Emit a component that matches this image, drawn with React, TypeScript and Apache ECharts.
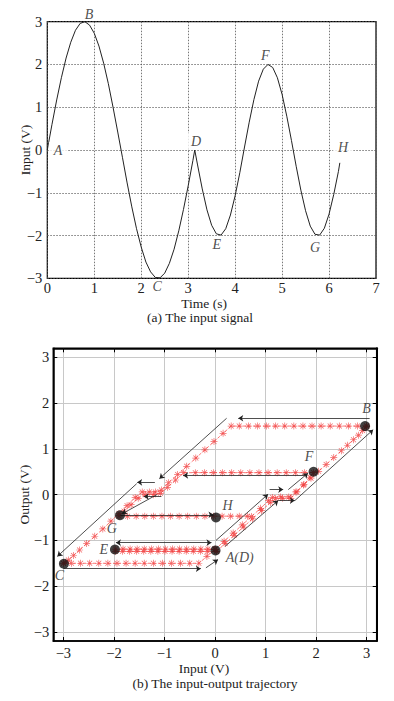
import React, { useEffect, useRef } from 'react';
import * as echarts from 'echarts';

// ---------- (a) input signal ----------
const timeValues = [0, 0.1, 0.2, 0.3, 0.4, 0.5, 0.6, 0.7, 0.8, 0.9, 1.0, 1.1, 1.2, 1.3, 1.4, 1.5, 1.6, 1.7, 1.8, 1.9, 2.0, 2.1, 2.2, 2.3, 2.4, 2.5, 2.6, 2.7, 2.8, 2.9, 3.0, 3.1, 3.14, 3.2, 3.3, 3.4, 3.5, 3.6, 3.7, 3.8, 3.9, 4.0, 4.1, 4.2, 4.3, 4.4, 4.5, 4.6, 4.7, 4.8, 4.9, 5.0, 5.1, 5.2, 5.3, 5.4, 5.5, 5.6, 5.7, 5.8, 5.9, 6.0, 6.1, 6.2, 6.23];
const inputValues = [0, 0.6, 1.17, 1.69, 2.15, 2.52, 2.8, 2.96, 3.0, 2.92, 2.73, 2.43, 2.03, 1.55, 1.0, 0.42, -0.17, -0.77, -1.33, -1.84, -2.27, -2.62, -2.85, -2.98, -2.99, -2.88, -2.65, -2.32, -1.89, -1.39, -0.84, -0.25, 0, -0.35, -0.91, -1.4, -1.76, -1.96, -1.99, -1.84, -1.52, -1.07, -0.53, 0.07, 0.65, 1.18, 1.61, 1.89, 2.0, 1.93, 1.69, 1.3, 0.79, 0.22, -0.38, -0.94, -1.42, -1.78, -1.97, -1.99, -1.83, -1.5, -1.04, -0.5, -0.3];
const signalLabelNames = ['A', 'B', 'C', 'D', 'E', 'F', 'G', 'H'];
const signalLabelPos = [[0.23, 0], [0.89, 3.18], [2.34, -3.2], [3.17, 0.21], [3.61, -2.22], [4.64, 2.22], [5.7, -2.27], [6.3, 0.07]];

// ---------- (b) input-output trajectory ----------
const pathAB = [[0, -1.2], [0.18, -1.02], [0.36, -0.84], [0.54, -0.66], [0.72, -0.48], [0.9, -0.3], [1.06, -0.13], [1.14, -0.06], [1.3, -0.05], [1.46, -0.05], [1.6, 0.06], [1.75, 0.21], [1.9, 0.36], [2.05, 0.51], [2.2, 0.66], [2.35, 0.81], [2.5, 0.96], [2.62, 1.08], [2.74, 1.2], [2.84, 1.3], [2.92, 1.4], [2.97, 1.46], [3.0, 1.5]];
const pathBC = [[3.0, 1.5], [2.82, 1.5], [2.64, 1.5], [2.46, 1.5], [2.28, 1.5], [2.1, 1.5], [1.92, 1.5], [1.74, 1.5], [1.56, 1.5], [1.38, 1.5], [1.2, 1.5], [1.02, 1.5], [0.84, 1.5], [0.66, 1.5], [0.48, 1.5], [0.32, 1.5], [0.16, 1.34], [-0.02, 1.16], [-0.2, 0.98], [-0.38, 0.8], [-0.56, 0.62], [-0.74, 0.44], [-0.92, 0.26], [-1.06, 0.1], [-1.18, 0.06], [-1.3, 0.06], [-1.44, 0.06], [-1.58, -0.06], [-1.74, -0.24], [-1.9, -0.41], [-2.06, -0.58], [-2.22, -0.75], [-2.38, -0.91], [-2.54, -1.07], [-2.68, -1.21], [-2.8, -1.33], [-2.9, -1.43], [-2.96, -1.48], [-3.0, -1.5]];
const pathCD = [[-3.0, -1.5], [-2.84, -1.5], [-2.66, -1.5], [-2.48, -1.5], [-2.3, -1.5], [-2.12, -1.5], [-1.94, -1.5], [-1.76, -1.5], [-1.58, -1.5], [-1.4, -1.5], [-1.22, -1.5], [-1.04, -1.5], [-0.86, -1.5], [-0.68, -1.5], [-0.5, -1.5], [-0.32, -1.5], [-0.16, -1.35], [0, -1.2]];
const pathDE = [[0, -1.19], [-0.14, -1.19], [-0.28, -1.19], [-0.42, -1.19], [-0.56, -1.19], [-0.7, -1.19], [-0.84, -1.19], [-0.98, -1.19], [-1.12, -1.19], [-1.26, -1.19], [-1.4, -1.19], [-1.54, -1.19], [-1.68, -1.19], [-1.82, -1.19], [-1.97, -1.19]];
const pathEA = [[-1.97, -1.24], [-1.83, -1.24], [-1.69, -1.24], [-1.55, -1.24], [-1.41, -1.24], [-1.27, -1.24], [-1.13, -1.24], [-0.99, -1.24], [-0.85, -1.24], [-0.71, -1.24], [-0.57, -1.24], [-0.43, -1.24], [-0.29, -1.24], [-0.15, -1.24], [0.03, -1.24]];
const pathAF = [[0.03, -1.24], [0.2, -1.07], [0.38, -0.89], [0.56, -0.71], [0.74, -0.53], [0.92, -0.35], [1.1, -0.17], [1.2, -0.09], [1.34, -0.08], [1.5, -0.08], [1.62, 0.06], [1.76, 0.22], [1.88, 0.38], [1.95, 0.48]];
const pathFG = [[1.95, 0.48], [1.77, 0.48], [1.59, 0.48], [1.41, 0.48], [1.23, 0.48], [1.05, 0.48], [0.87, 0.48], [0.69, 0.48], [0.51, 0.48], [0.33, 0.48], [0.15, 0.48], [-0.03, 0.48], [-0.21, 0.48], [-0.39, 0.48], [-0.62, 0.48], [-0.78, 0.32], [-0.94, 0.16], [-1.08, 0.03], [-1.22, 0.0], [-1.38, 0.0], [-1.52, -0.08], [-1.66, -0.22], [-1.8, -0.36], [-1.9, -0.46]];
const pathGH = [[-1.9, -0.47], [-1.73, -0.47], [-1.56, -0.47], [-1.39, -0.47], [-1.22, -0.47], [-1.05, -0.47], [-0.88, -0.47], [-0.71, -0.47], [-0.54, -0.47], [-0.37, -0.47], [-0.2, -0.47], [-0.03, -0.47], [0.14, -0.47], [0.31, -0.47], [0.48, -0.47], [0.64, -0.47]];

const arrowSingle = [
  [[3.06, 1.67], [0.46, 1.67]],
  [[0.23, 1.67], [-1.1, 0.35]],
  [[-1.19, 0.27], [-1.54, 0.27]],
  [[-1.55, 0.24], [-3.12, -1.35]],
  [[-1.06, -0.04], [-1.41, -0.04]],
  [[-1.15, 0.0], [-1.84, -0.42]],
  [[1.78, 0.42], [-0.63, 0.42]],
  [[-1.87, -0.44], [-0.03, -0.44]],
  [[-3.0, -1.62], [-0.28, -1.62]],
  [[-0.18, -1.6], [0.06, -1.42]],
  [[0.02, -1.0], [1.05, 0.01]],
  [[1.08, 0.11], [1.35, 0.11]],
  [[1.45, 0.11], [1.84, 0.47]],
  [[0.2, -1.13], [1.25, -0.13]],
  [[1.25, -0.13], [1.58, -0.13]],
  [[1.58, -0.13], [3.13, 1.42]],
];
const arrowDouble = [[[-1.96, -1.05], [-0.07, -1.05]]];

const keyPointNames = ['B', 'F', 'H', 'A', 'E', 'G', 'C'];
const keyPoints = [[2.97, 1.5], [1.95, 0.5], [0.02, -0.5], [0.01, -1.22], [-1.98, -1.2], [-1.88, -0.45], [-2.99, -1.51]];
const keyLabelNames = ['B', 'F', 'H', 'A(D)', 'E', 'G', 'C'];
const keyLabelPos = [[3.0, 1.89], [1.86, 0.84], [0.25, -0.24], [0.49, -1.37], [-2.2, -1.2], [-2.04, -0.73], [-3.08, -1.77]];
const ioTicks = [-3, -2, -1, 0, 1, 2, 3];

const SERIF = 'Liberation Serif';
const FS = 13.5;
const TICK_FS = 14.5;
const fmt = (v: number) => (v < 0 ? '\u2212' + Math.abs(v) : String(v));
const ASTERISK =
  'path://M4.5 0h1v10h-1z M0 4.5h10v1H0z M1.1 1.8l0.7-0.7 7.1 7.1-0.7 0.7z M8.2 1.1l0.7 0.7-7.1 7.1-0.7-0.7z';

export default function App() {
  const ref = useRef<HTMLDivElement>(null);
  useEffect(() => {
    document.body.style.margin = '0';
    if (!ref.current) return;
    const chart = echarts.init(ref.current, undefined, { renderer: 'svg' });
    const txt = { fontFamily: SERIF, fontSize: FS, color: '#222', fontWeight: 'normal' as const };
    const tick = { ...txt, fontSize: TICK_FS };
    const trajectory = [...pathAB, ...pathBC, ...pathCD, ...pathDE, ...pathEA, ...pathAF, ...pathFG, ...pathGH];
    const option: any = {
      animation: false,
      textStyle: { fontFamily: SERIF },
      grid: [
        { left: 47.3, top: 21.7, width: 328.7, height: 256.6, show: true, borderColor: '#000', borderWidth: 1.2 },
        { left: 53.3, top: 348.3, width: 323.4, height: 292.7, show: true, borderColor: '#000', borderWidth: 1.5 },
      ],
      xAxis: [
        {
          gridIndex: 0, type: 'value', min: 0, max: 7, interval: 1,
          axisLine: { show: false, onZero: false }, axisTick: { show: false },
          axisLabel: { ...tick, margin: 2, formatter: fmt },
          splitLine: { show: true, lineStyle: { color: '#555', type: [1.5, 1.5], width: 0.8 } },
          name: 'Time (s)', nameLocation: 'middle', nameGap: 13.5,
          nameTextStyle: { ...txt, padding: [0, 15, 0, 0] },
        },
        {
          gridIndex: 1, type: 'value', min: -3.2, max: 3.2, position: 'bottom',
          axisLine: { show: true, onZero: false, lineStyle: { color: '#000', width: 1.5 } },
          axisTick: { show: true, inside: true, length: 4, customValues: ioTicks, lineStyle: { color: '#000' } },
          axisLabel: { ...tick, margin: 4, customValues: ioTicks, formatter: fmt },
          splitLine: { show: true, lineStyle: { color: '#c8c8c8', width: 1 } },
          name: 'Input (V)', nameLocation: 'middle', nameGap: 20,
          nameTextStyle: { ...txt, padding: [0, 22, 0, 0] },
        },
        {
          gridIndex: 1, type: 'value', min: -3.2, max: 3.2, position: 'top',
          axisLine: { show: true, onZero: false, lineStyle: { color: '#000', width: 1.5 } },
          axisTick: { show: true, inside: true, length: 4, customValues: ioTicks, lineStyle: { color: '#000' } },
          axisLabel: { show: false }, splitLine: { show: false },
        },
      ],
      yAxis: [
        {
          gridIndex: 0, type: 'value', min: -3, max: 3, interval: 1,
          axisLine: { show: false, onZero: false }, axisTick: { show: false },
          axisLabel: { ...tick, margin: 5, formatter: fmt },
          splitLine: { show: true, lineStyle: { color: '#555', type: [1.5, 1.5], width: 0.8 } },
          name: 'Input (V)', nameLocation: 'middle', nameGap: 14.5, nameMoveOverlap: false, nameTextStyle: txt,
        },
        {
          gridIndex: 1, type: 'value', min: -3.2, max: 3.2, position: 'left',
          axisLine: { show: true, onZero: false, lineStyle: { color: '#000', width: 1.5 } },
          axisTick: { show: true, inside: true, length: 4, customValues: ioTicks, lineStyle: { color: '#000' } },
          axisLabel: { ...tick, margin: 4, customValues: ioTicks, formatter: fmt },
          splitLine: { show: true, lineStyle: { color: '#c8c8c8', width: 1 } },
          name: 'Output (V)', nameLocation: 'middle', nameGap: 21.5, nameMoveOverlap: false, nameTextStyle: txt,
        },
        {
          gridIndex: 1, type: 'value', min: -3.2, max: 3.2, position: 'right',
          axisLine: { show: true, onZero: false, lineStyle: { color: '#000', width: 2 } },
          axisTick: { show: true, inside: true, length: 4, customValues: ioTicks, lineStyle: { color: '#000' } },
          axisLabel: { show: false }, splitLine: { show: false },
        },
      ],
      series: [
        {
          type: 'line', xAxisIndex: 0, yAxisIndex: 0, showSymbol: false,
          data: timeValues.map((t, i) => [t, inputValues[i]]),
          lineStyle: { color: '#222', width: 1 }, z: 3,
        },
        {
          type: 'scatter', xAxisIndex: 0, yAxisIndex: 0, clip: false, symbolSize: 1,
          itemStyle: { color: 'rgba(0,0,0,0)' }, z: 5,
          data: signalLabelNames.map((n, i) => ({
            name: n, value: signalLabelPos[i],
            label: ['A', 'D', 'H'].includes(n) ? { backgroundColor: '#fff', padding: [1, 5] } : undefined,
          })),
          label: { show: true, position: 'inside', formatter: '{b}', ...txt, fontSize: 14, fontStyle: 'italic' },
        },
        {
          type: 'line', xAxisIndex: 1, yAxisIndex: 1, data: trajectory,
          showAllSymbol: true, symbol: ASTERISK, symbolSize: 7,
          itemStyle: { color: 'rgba(240,60,60,0.8)' },
          lineStyle: { color: '#f55', width: 0.8, type: [3, 2] }, z: 3,
        },
        {
          type: 'lines', coordinateSystem: 'cartesian2d', xAxisIndex: 1, yAxisIndex: 1,
          symbol: ['none', 'arrow'], symbolSize: 5,
          lineStyle: { color: '#222', width: 0.8, opacity: 1 },
          data: arrowSingle.map((c) => ({ coords: c })), z: 4,
        },
        {
          type: 'lines', coordinateSystem: 'cartesian2d', xAxisIndex: 1, yAxisIndex: 1,
          symbol: ['arrow', 'arrow'], symbolSize: 5,
          lineStyle: { color: '#222', width: 0.8, opacity: 1 },
          data: arrowDouble.map((c) => ({ coords: c })), z: 4,
        },
        {
          type: 'scatter', xAxisIndex: 1, yAxisIndex: 1, symbolSize: 10,
          itemStyle: { color: '#111' }, z: 6,
          data: keyPointNames.map((n, i) => ({ name: n, value: keyPoints[i] })),
        },
        {
          type: 'scatter', xAxisIndex: 1, yAxisIndex: 1, clip: false, symbolSize: 1,
          itemStyle: { color: 'rgba(0,0,0,0)' }, z: 6,
          data: keyLabelNames.map((n, i) => ({ name: n, value: keyLabelPos[i] })),
          label: { show: true, position: 'inside', formatter: '{b}', ...txt, fontSize: 14, fontStyle: 'italic' },
        },
      ],
      graphic: [
        { type: 'text', x: 200, y: 317, style: { text: '(a) The input signal', fontFamily: SERIF, fontSize: FS, fill: '#222', textAlign: 'center', textVerticalAlign: 'middle' } },
        { type: 'text', x: 215, y: 683, style: { text: '(b) The input-output trajectory', fontFamily: SERIF, fontSize: FS, fill: '#222', textAlign: 'center', textVerticalAlign: 'middle' } },
      ],
    };
    chart.setOption(option);
    return () => chart.dispose();
  }, []);
  return <div ref={ref} style={{ position: 'absolute', left: 0, top: 0, width: 394, height: 701 }} />;
}
